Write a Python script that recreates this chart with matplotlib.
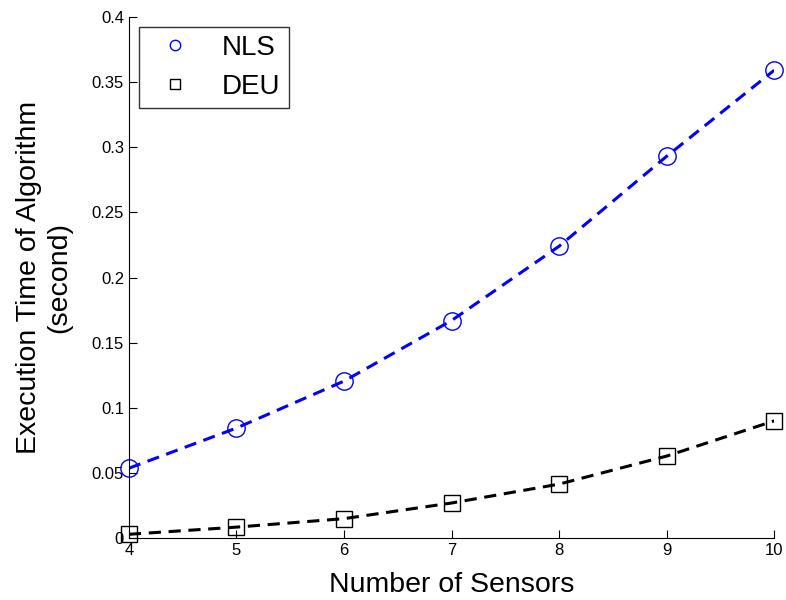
import matplotlib.pyplot as plt

plt.rcParams['font.family'] = ['Liberation Sans', 'DejaVu Sans']

sensors = [4, 5, 6, 7, 8, 9, 10]
nls = [0.0537, 0.0845, 0.1205, 0.167, 0.224, 0.293, 0.359]
deu = [0.003, 0.0085, 0.015, 0.027, 0.0415, 0.063, 0.090]

fig = plt.figure(figsize=(7.86, 6), dpi=100)
ax = fig.add_axes([0.164, 0.103, 0.821, 0.869])

# dashed curves, then open markers on top
ax.plot(sensors, nls, color='blue', linestyle='--', linewidth=2.2, dashes=(4, 2.5))
ax.plot(sensors, deu, color='black', linestyle='--', linewidth=2.2, dashes=(4, 2.5))
ax.plot(sensors, nls, 'o', color='blue', markerfacecolor='none', markersize=12.5,
        markeredgewidth=1.0, label='NLS', clip_on=False)
ax.plot(sensors, deu, 's', color='black', markerfacecolor='none', markersize=11,
        markeredgewidth=1.0, label='DEU', clip_on=False)

ax.set_xlim(4, 10)
ax.set_ylim(0, 0.4)
ax.set_xticks(sensors)
ax.set_yticks([0, 0.05, 0.1, 0.15, 0.2, 0.25, 0.3, 0.35, 0.4])
ax.set_yticklabels(['0', '0.05', '0.1', '0.15', '0.2', '0.25', '0.3', '0.35', '0.4'])
ax.tick_params(direction='in', labelsize=12, length=6)
ax.spines['top'].set_visible(False)
ax.spines['right'].set_visible(False)

ax.set_xlabel('Number of Sensors', fontsize=20.5, labelpad=10)
ax.set_ylabel('Execution Time of Algorithm\n(second)', fontsize=20.5, labelpad=14)

leg = ax.legend(loc='upper left', fontsize=20, fancybox=False, edgecolor='black',
                markerscale=0.6, handletextpad=0.7, handlelength=2.0, borderpad=0.3,
                labelspacing=0.45, borderaxespad=0, bbox_to_anchor=(0.0155, 0.981))
leg.get_frame().set_linewidth(1.0)

fig.savefig('out.png', dpi=100)
